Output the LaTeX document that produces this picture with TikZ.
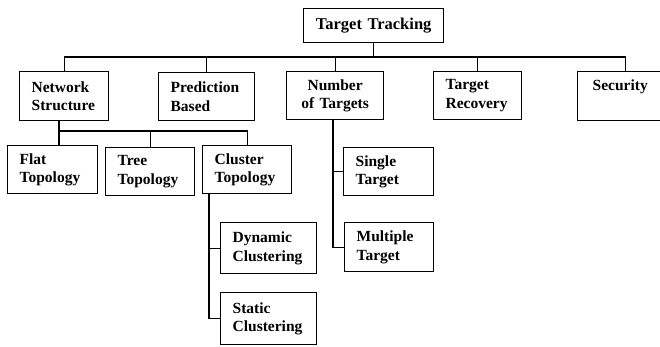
\documentclass[tikz,border=0pt]{standalone}
\usepackage{fontspec}
\setmainfont{Liberation Serif}

\begin{document}
\begin{tikzpicture}[x=1pt, y=-1pt,
  box/.style 2 args={draw, black, line width=1.3pt, anchor=north west, align=left,
    inner xsep=12pt, inner ysep=0pt, text width={#1pt-24pt}, minimum height=#2pt,
    font=\fontsize{15.5}{18.5}\selectfont\bfseries},
  link/.style={draw, black, line width=1.1pt}]

\useasboundingbox (0,0) rectangle (660,347);

% top
\node[box={140}{34}, align=center, font=\fontsize{16.5}{19}\selectfont\bfseries] (track) at (303,8) {Target Tracking};

% first level
\node[box={89}{49}] (net) at (19,71) {Network\\Structure};
\node[box={96}{48}] (pred) at (158,72) {Prediction\\Based};
\node[box={97}{48}, align=center] (num) at (286,71) {Number\\of Targets};
\node[box={88}{48}] (recov) at (433,71) {Target\\Recovery};
\node[box={90}{49}, inner xsep=15pt, text depth=22pt] (sec) at (577,71) {Security};

% second level
\node[box={90}{48}] (flat) at (7,145) {Flat\\Topology};
\node[box={89}{48}] (tree) at (105,147) {Tree\\Topology};
\node[box={89}{48}] (clus) at (202,145) {Cluster\\Topology};
\node[box={90}{48}] (single) at (343,147) {Single\\Target};
\node[box={89}{49}] (multi) at (344,222) {Multiple\\Target};

% third level
\node[box={96}{51}] (dyn) at (220,222) {Dynamic\\Clustering};
\node[box={96}{52}] (stat) at (220,292) {Static\\Clustering};

% connectors
\coordinate (topbus) at (0,57);
\draw[link] (track.south) |- (topbus -| net.north) -- (net.north);
\draw[link] (track.south) |- (topbus -| pred.north) -- (pred.north);
\draw[link] (track.south) |- (topbus -| num.north) -- (num.north);
\draw[link] (track.south) |- (topbus -| recov.north) -- (recov.north);
\draw[link] (track.south) |- (topbus -| sec.north) -- (sec.north);

\coordinate (netfork) at (59,131);
\draw[link] (netfork |- net.south) -- (netfork |- flat.north);
\draw[link] (netfork) -| (tree.north);
\draw[link] (netfork) -| (clus.north);

\coordinate (clusline) at (209,0);
\draw[link] (clusline |- clus.south) |- (dyn.west);
\draw[link] (clusline |- clus.south) |- (stat.west);

\coordinate (numline) at (333,0);
\draw[link] (numline |- num.south) |- (single.west);
\draw[link] (numline |- num.south) |- (multi.west);

\end{tikzpicture}
\end{document}
